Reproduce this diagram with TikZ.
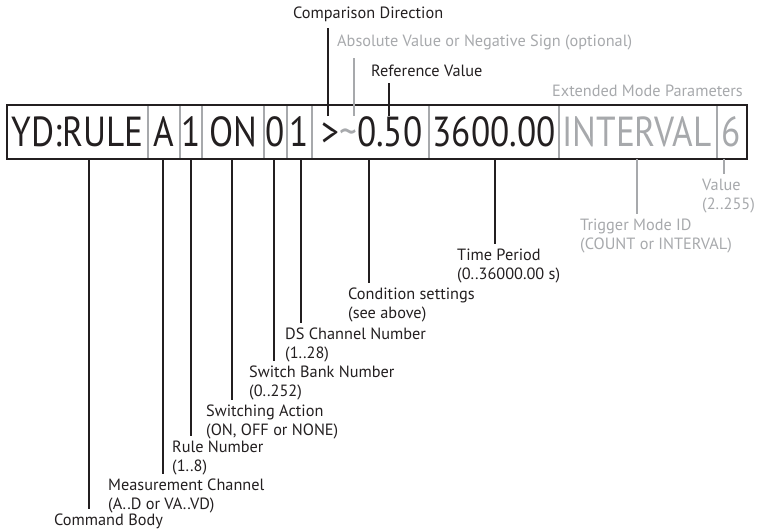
\documentclass[tikz,border=0pt]{standalone}
\usepackage{fontspec}
\setmainfont{PT Sans}
\newfontfamily\bigfont[FakeStretch=0.84]{PT Sans}
\definecolor{ink}{HTML}{231F20}
\definecolor{lg}{HTML}{A7A9AC}
\begin{document}
\begin{tikzpicture}[x=1pt,y=-1pt,
  big/.style={font=\bigfont\fontsize{42}{42}\selectfont, inner sep=0pt, anchor=base, text=ink},
  gbig/.style={big, text=lg},
  lbl/.style={font=\fontsize{16.3}{19}\selectfont, inner sep=0pt, anchor=north west, align=left, text=ink},
  glbl/.style={lbl, text=lg},
  conn/.style={draw=ink, line width=2.6pt, shorten >=5pt},
  gconn/.style={draw=lg, line width=2.6pt, shorten >=5pt},
  div/.style={draw=lg, line width=1.6pt},
  frame/.style={draw=ink, line width=2pt}]
\useasboundingbox (0,0) rectangle (757,531);
% box
\draw[div] (148,105) -- (148,159);
\draw[div] (180,105) -- (180,159);
\draw[div] (202,105) -- (202,159);
\draw[div] (264,105) -- (264,159);
\draw[div] (287,105) -- (287,159);
\draw[div] (312,105) -- (312,159);
\draw[div] (429,105) -- (429,159);
\draw[div] (559,105) -- (559,159);
\draw[div] (717,105) -- (717,159);
\draw[frame] (7,105) rectangle (747,159);
% cell texts
\node[big] (t1) at (77.5,146) {YD:RULE};
\node[big] (t2) at (164,146) {A};
\node[big] (t3) at (191,146) {1};
\node[big] (t4) at (233,146) {ON};
\node[big] (t5) at (275.5,146) {0};
\node[big] (t6) at (299.5,146) {1};
\node[big] (t7) at (372,146) {>{\color{lg}\char"7E}0.50};
\node[big] (t8) at (494,146) {3600.00};
\node[gbig] (t9) at (637,146) {INTERVAL};
\node[gbig] (t10) at (731,146) {6};
% bottom anchor points
\coordinate (b1) at (89,159);
\coordinate (b2) at (163,159);
\coordinate (b3) at (191,159);
\coordinate (b4) at (232,159);
\coordinate (b5) at (274,159);
\coordinate (b6) at (301,159);
\coordinate (b7) at (369,159);
\coordinate (b8) at (495,159);
\coordinate (b9) at (637,159);
\coordinate (b10) at (724,159);
% top anchor points (inside box)
\coordinate (c1) at (328,116);
\coordinate (c2) at (354,116);
\coordinate (c3) at (389,116);
% bottom labels
\node[lbl] (l1) at (54,514) {Command Body};
\node[lbl] (l2) at (108,479) {Measurement Channel\\(A..D or VA..VD)};
\node[lbl] (l3) at (172,441) {Rule Number\\(1..8)};
\node[lbl] (l4) at (206,405) {Switching Action\\(ON, OFF or NONE)};
\node[lbl] (l5) at (249,366) {Switch Bank Number\\(0..252)};
\node[lbl] (l6) at (285,328) {DS Channel Number\\(1..28)};
\node[lbl] (l7) at (348,288) {Condition settings\\(see above)};
\node[lbl] (l8) at (457,249) {Time Period\\(0..36000.00 s)};
\node[glbl] (l9) at (580,219) {Trigger Mode ID\\(COUNT or INTERVAL)};
\node[glbl] (l10) at (702,179) {Value\\(2..255)};
% top labels
\node[lbl, anchor=west] (u1) at (293,14) {Comparison Direction};
\node[glbl, anchor=west] (u2) at (337,42) {Absolute Value or Negative Sign (optional)};
\node[lbl, anchor=west] (u3) at (371,71) {Reference Value};
\node[glbl, anchor=east] (u4) at (743,91) {Extended Mode Parameters};
% connectors
\draw[conn] (b1) -- (b1 |- l1.north);
\draw[conn] (b2) -- (b2 |- l2.north);
\draw[conn] (b3) -- (b3 |- l3.north);
\draw[conn] (b4) -- (b4 |- l4.north);
\draw[conn] (b5) -- (b5 |- l5.north);
\draw[conn] (b6) -- (b6 |- l6.north);
\draw[conn] (b7) -- (b7 |- l7.north);
\draw[conn] (b8) -- (b8 |- l8.north);
\draw[gconn] (b9) -- (b9 |- l9.north);
\draw[gconn] (b10) -- (b10 |- l10.north);
\draw[conn, shorten >=6pt] (c1) -- (c1 |- u1.south);
\draw[gconn, shorten >=8pt] (c2) -- (c2 |- u2.south);
\draw[conn, shorten >=6pt] (c3) -- (c3 |- u3.south);
\end{tikzpicture}
\end{document}
